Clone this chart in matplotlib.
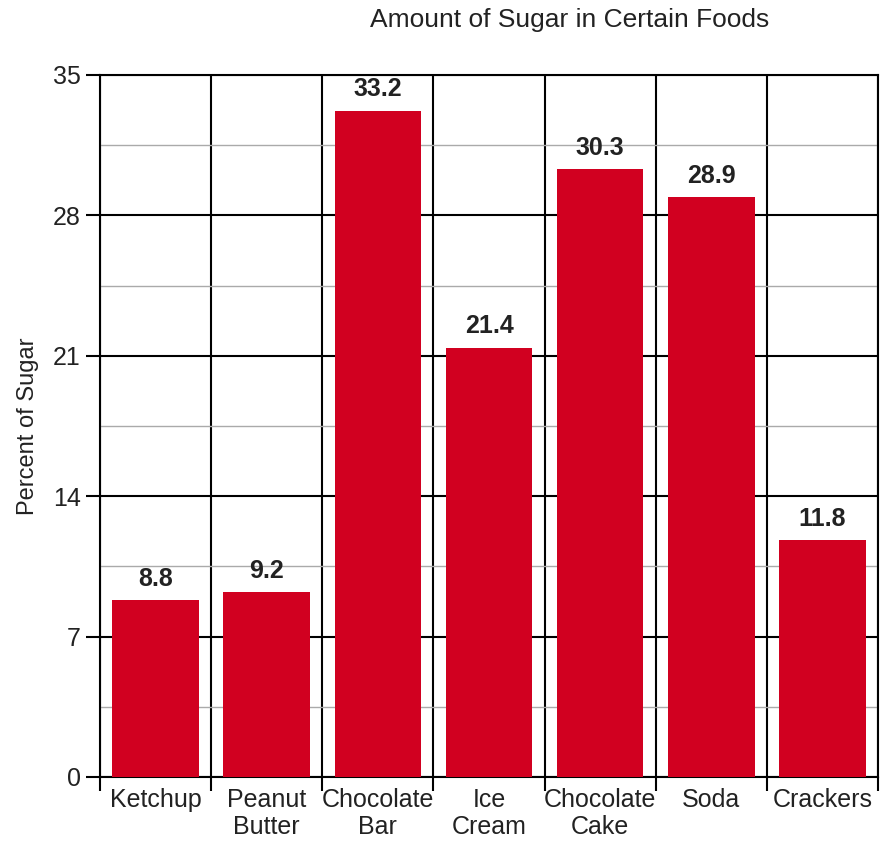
import numpy as np
import matplotlib.pyplot as plt
from matplotlib.ticker import MultipleLocator, FixedLocator

plt.rcParams['font.family'] = ['Liberation Sans', 'DejaVu Sans']

foods = ["Ketchup", "Peanut\nButter", "Chocolate\nBar", "Ice\nCream",
         "Chocolate\nCake", "Soda", "Crackers"]
sugar = [8.8, 9.2, 33.2, 21.4, 30.3, 28.9, 11.8]
yticks = [0, 7, 14, 21, 28, 35]

BAR_COLOR = "#D10020"

fig = plt.figure(figsize=(8.8, 8.43), dpi=100)
ax = fig.add_axes([100 / 880, 1 - 777 / 843, 778 / 880, (777 - 75) / 843])

x = np.arange(len(foods))
bars = ax.bar(x, sugar, width=0.78, color=BAR_COLOR, zorder=3)
for b, v in zip(bars, sugar):
    ax.annotate(f"{v:.1f}", (b.get_x() + b.get_width() / 2, v),
                textcoords="offset points", xytext=(0, 7), ha="center",
                va="bottom", fontsize=18, fontweight="bold", color="#222222",
                zorder=4)

ax.set_xlim(-0.5, len(foods) - 0.5)
ax.set_ylim(0, 35)

# y axis: black major lines every 7, gray minor lines halfway
ax.yaxis.set_major_locator(FixedLocator(yticks))
ax.yaxis.set_minor_locator(MultipleLocator(3.5))
ax.grid(axis="y", which="major", color="black", lw=1.5, zorder=1)
ax.grid(axis="y", which="minor", color="#aaaaaa", lw=1.0, zorder=1)
ax.tick_params(axis="y", which="major", length=10, width=1.5,
               labelsize=18, pad=4, colors="black", labelcolor="#222222")
ax.tick_params(axis="y", which="minor", length=0)

# x axis: labels at bar centers, black separators at category boundaries
ax.set_xticks(x)
ax.set_xticklabels(foods, fontsize=18, color="#222222", linespacing=1.15)
ax.xaxis.set_minor_locator(FixedLocator(np.arange(-0.5, len(foods), 1.0)))
ax.grid(axis="x", which="minor", color="black", lw=1.5, zorder=1)
ax.tick_params(axis="x", which="major", length=0, pad=8)
ax.tick_params(axis="x", which="minor", length=10, width=1.5)

for s in ax.spines.values():
    s.set_color("black")
    s.set_linewidth(1.5)

ax.set_ylabel("Percent of Sugar", fontsize=17, color="#222222", labelpad=10)
fig.text(570 / 880, 1 - 20 / 843, "Amount of Sugar in Certain Foods",
         ha="center", va="center", fontsize=19, color="#222222")

fig.savefig("out.png", dpi=100)
